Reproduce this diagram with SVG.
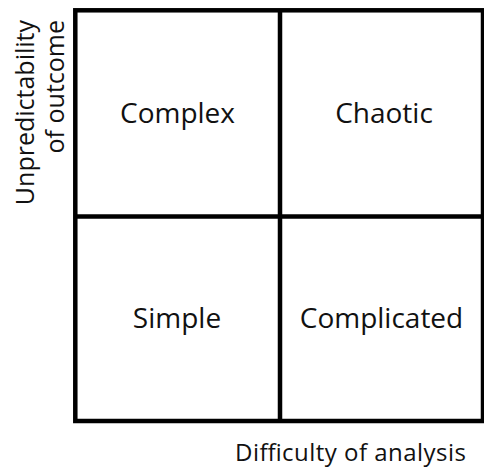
<svg xmlns="http://www.w3.org/2000/svg" width="484" height="468" viewBox="0 0 484 468">
  <style>
    .grid { fill: none; stroke: #000; stroke-width: 4.5; }
    .cell { font-family: "Open Sans", "Liberation Sans", sans-serif; font-size: 28px; fill: #111; text-anchor: middle; }
    .axis { font-family: "Open Sans", "Liberation Sans", sans-serif; font-size: 24px; fill: #111; }
  </style>
  <rect width="484" height="468" fill="#fff"/>

  <!-- 2x2 grid -->
  <g id="connectors">
    <rect class="grid" x="75.3" y="10.3" width="407.7" height="410.7"/>
    <line class="grid" x1="280" y1="10" x2="280" y2="421"/>
    <line class="grid" x1="75" y1="216.5" x2="483" y2="216.5"/>
  </g>

  <g id="complex"><text class="cell" x="177.5" y="123">Complex</text></g>
  <g id="chaotic"><text class="cell" x="384" y="123">Chaotic</text></g>
  <g id="simple"><text class="cell" x="177" y="328">Simple</text></g>
  <g id="complicated"><text class="cell" x="381.5" y="328">Complicated</text></g>

  <!-- axis labels -->
  <g id="x-axis-label">
    <text class="axis" x="235" y="461" textLength="231">Difficulty of analysis</text>
  </g>
  <g id="y-axis-label">
    <text class="axis" style="font-size:25px" text-anchor="end" transform="translate(34,20) rotate(-90)">Unpredictability</text>
    <text class="axis" style="font-size:25px" text-anchor="end" transform="translate(64,20) rotate(-90)">of outcome</text>
  </g>
</svg>
